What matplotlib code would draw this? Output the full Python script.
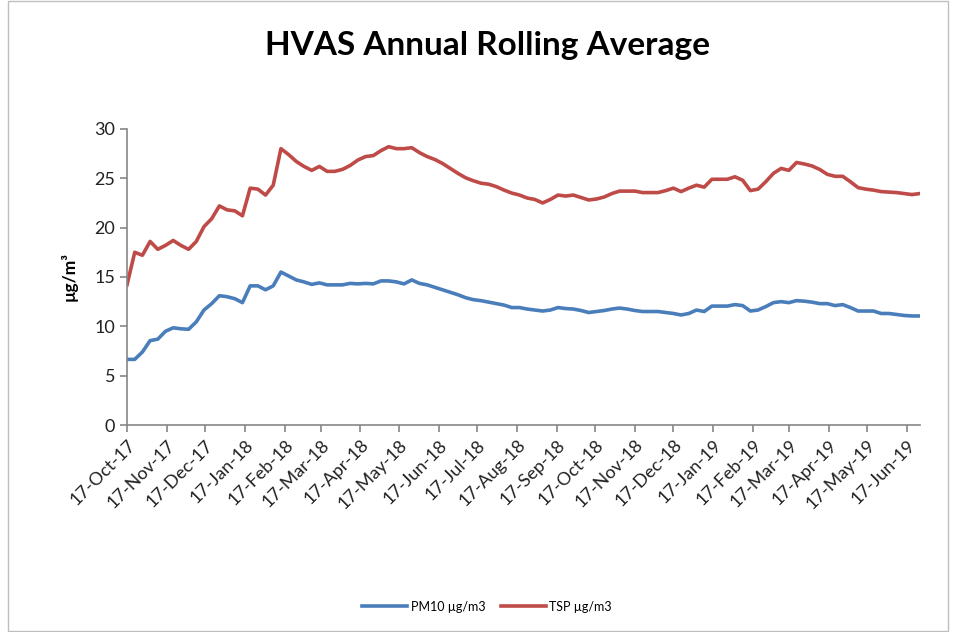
import datetime as dt
import matplotlib
matplotlib.use('Agg')
from matplotlib import pyplot as plt
import matplotlib.dates as mdates
from matplotlib.patches import Rectangle

# HVAS samples every 6 days, first sample 17-Oct-17
start = dt.date(2017, 10, 17)
step_days = 6

pm10 = [6.65, 6.65, 7.4, 8.55, 8.7, 9.5, 9.85, 9.75, 9.7, 10.45,
        11.65, 12.3, 13.1, 13.0, 12.8, 12.4, 14.1, 14.1, 13.7, 14.1,
        15.5, 15.1, 14.7, 14.5, 14.25, 14.4, 14.2, 14.2, 14.2, 14.35,
        14.3, 14.35, 14.3, 14.6, 14.6, 14.5, 14.3, 14.7, 14.35, 14.2,
        13.95, 13.7, 13.45, 13.2, 12.9, 12.7, 12.6, 12.45, 12.3, 12.15,
        11.9, 11.9, 11.75, 11.65, 11.55, 11.65, 11.9, 11.8, 11.75, 11.6,
        11.4, 11.5, 11.6, 11.75, 11.85, 11.75, 11.6, 11.5, 11.5, 11.5,
        11.4, 11.3, 11.15, 11.3, 11.65, 11.5, 12.05, 12.05, 12.05, 12.2,
        12.1, 11.55, 11.65, 12.0, 12.4, 12.5, 12.4, 12.6, 12.55, 12.45,
        12.3, 12.3, 12.1, 12.2, 11.9, 11.55, 11.55, 11.55, 11.3, 11.3,
        11.2, 11.1, 11.05, 11.05]

tsp = [14.2, 17.5, 17.2, 18.6, 17.8, 18.2, 18.7, 18.2, 17.8, 18.6,
       20.1, 20.9, 22.2, 21.8, 21.7, 21.2, 24.0, 23.9, 23.3, 24.3,
       28.0, 27.4, 26.7, 26.2, 25.8, 26.2, 25.7, 25.7, 25.9, 26.3,
       26.85, 27.2, 27.3, 27.8, 28.2, 28.0, 28.0, 28.1, 27.6, 27.2,
       26.9, 26.5, 26.0, 25.5, 25.05, 24.75, 24.5, 24.4, 24.15, 23.8,
       23.5, 23.3, 23.0, 22.85, 22.5, 22.85, 23.3, 23.2, 23.3, 23.05,
       22.8, 22.9, 23.1, 23.45, 23.7, 23.7, 23.7, 23.55, 23.55, 23.55,
       23.75, 24.0, 23.65, 24.0, 24.3, 24.1, 24.9, 24.9, 24.9, 25.15,
       24.8, 23.75, 23.9, 24.65, 25.5, 26.0, 25.8, 26.6, 26.45, 26.25,
       25.9, 25.4, 25.2, 25.2, 24.65, 24.05, 23.9, 23.8, 23.65, 23.6,
       23.55, 23.45, 23.35, 23.45]

dates = [start + dt.timedelta(days=step_days * i) for i in range(len(tsp))]

plt.rcParams['font.family'] = ['Lato', 'DejaVu Sans']

fig = plt.figure(figsize=(9.55, 6.32), dpi=100)
ax = fig.add_axes([0.133, 0.3275, 0.83, 0.4685])

ax.plot(dates, pm10, color='#4A7EBB', lw=2.6, label='PM10 µg/m3')
ax.plot(dates, tsp, color='#BE4B48', lw=2.6, label='TSP µg/m3')

ax.set_ylim(0, 30)
ax.set_yticks(range(0, 31, 5))
ax.set_xlim(dates[0], dates[-1])
ax.xaxis.set_major_locator(mdates.MonthLocator(bymonthday=17))
ax.xaxis.set_major_formatter(mdates.DateFormatter('%d-%b-%y'))

for s in ['top', 'right']:
    ax.spines[s].set_visible(False)
for s in ['left', 'bottom']:
    ax.spines[s].set_color('#868686')
    ax.spines[s].set_linewidth(1.2)
ax.tick_params(axis='both', direction='out', length=5, width=1.2,
               color='#868686', labelsize=13, labelcolor='#222222')
plt.setp(ax.get_xticklabels(), rotation=45, ha='right',
         rotation_mode='anchor')

ax.set_ylabel('µg/m³', fontsize=12.5, fontweight='bold', labelpad=12)
fig.text(0.51, 0.928, 'HVAS Annual Rolling Average', ha='center',
         va='center', fontsize=24, fontweight='bold')

fig.legend(loc='center', bbox_to_anchor=(0.51, 0.04), ncol=2,
           frameon=False, fontsize=9, handlelength=3.6, handletextpad=0.3,
           columnspacing=1.2)

fig.patches.append(Rectangle((0.008, 0.002), 0.985, 0.996,
                             transform=fig.transFigure, fill=False,
                             edgecolor='#bfbfbf', lw=1))

fig.savefig('out.png', dpi=100)
